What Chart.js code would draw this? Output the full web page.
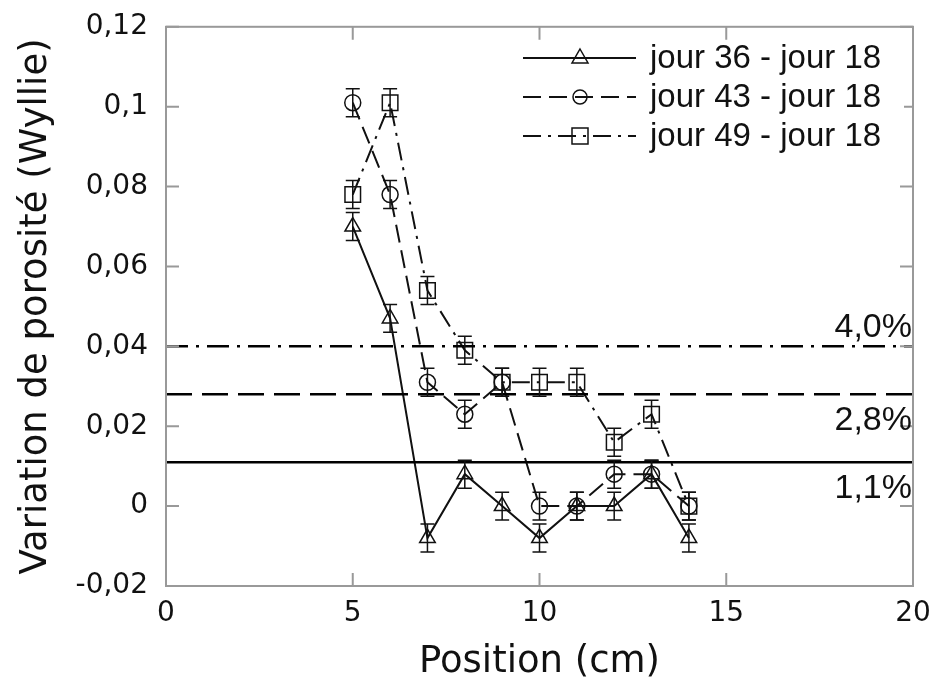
<!DOCTYPE html>
<html lang="fr">
<head>
<meta charset="UTF-8">
<title>Variation de porosité</title>
<style>
  body { margin: 0; padding: 0; background: #fff; }
  #wrap { width: 935px; height: 681px; position: relative; }
</style>
</head>
<body>
<div id="wrap"><canvas id="chart" width="935" height="681"></canvas></div>

<script src="https://cdn.jsdelivr.net/npm/chart.js"></script>
<script>
// positions (cm)
var positions = [5, 6, 7, 8, 9, 10, 11, 12, 13, 14];

// variation de porosité (Wyllie)
var jour36 = [0.070, 0.047, -0.008, 0.008, 0.000, -0.008, 0.000, 0.000, 0.008, -0.008];
var jour43 = [0.101, 0.078, 0.031, 0.023, 0.031, 0.000, 0.000, 0.008, 0.008, 0.000];
var jour49 = [0.078, 0.101, 0.054, 0.039, 0.031, 0.031, 0.031, 0.016, 0.023, 0.000];

// error bar half heights
var err36 = [0.0035, 0.0035, 0.0035, 0.0035, 0.0035, 0.0035, 0.0035, 0.0035, 0.0035, 0.0035];
var err43 = [0.0035, 0.0035, 0.0035, 0.0035, 0.0035, 0.0035, 0.0035, 0.0035, 0.0035, 0.0035];
var err49 = [0.0035, 0.0035, 0.0035, 0.0035, 0.0035, 0.0035, 0.0035, 0.0035, 0.0035, 0.0035];

var seriesNames = ['jour 36 - jour 18', 'jour 43 - jour 18', 'jour 49 - jour 18'];

// horizontal reference levels
var refLevels = [0.040, 0.028, 0.011];
var refLabels = ['4,0%', '2,8%', '1,1%'];
var refRange = [0, 20];

var xTicks = [0, 5, 10, 15, 20];
var xTickLabels = ['0', '5', '10', '15', '20'];
var yTicks = [-0.02, 0, 0.02, 0.04, 0.06, 0.08, 0.1, 0.12];
var yTickLabels = ['-0,02', '0', '0,02', '0,04', '0,06', '0,08', '0,1', '0,12'];

var dashes = [[], [18, 8], [18, 7, 3, 7]];
var refDashes = [[22, 8, 3, 8], [26, 10], []];
var shapes = ['triangle', 'circle', 'rect'];
var radii = [9, 8, 11];

function pts(vals) {
    return positions.map(function (p, i) { return { x: p, y: vals[i] }; });
}

var seriesVals = [jour36, jour43, jour49];
var seriesErr = [err36, err43, err49];

var datasets = [];
refLevels.forEach(function (lvl, i) {
    datasets.push({
        label: refLabels[i],
        data: [{ x: refRange[0], y: lvl }, { x: refRange[1], y: lvl }],
        showLine: true,
        borderColor: '#000',
        borderWidth: 2.5,
        borderDash: refDashes[i],
        pointRadius: 0
    });
});
seriesVals.forEach(function (vals, i) {
    datasets.push({
        label: seriesNames[i],
        data: pts(vals),
        showLine: true,
        borderColor: '#111',
        borderWidth: 2,
        borderDash: dashes[i],
        pointStyle: shapes[i],
        pointRadius: radii[i],
        pointBorderWidth: 1.5,
        pointBorderColor: '#111',
        pointBackgroundColor: 'rgba(0,0,0,0)'
    });
});

// frame with inward ticks, error bars, reference labels and legend
var extras = {
    id: 'extras',
    afterDatasetsDraw: function (chart) {
        var ctx = chart.ctx;
        var a = chart.chartArea;
        var xs = chart.scales.x, ys = chart.scales.y;

        // error bars
        ctx.save();
        ctx.strokeStyle = '#111';
        ctx.lineWidth = 1.5;
        ctx.setLineDash([]);
        seriesVals.forEach(function (vals, s) {
            vals.forEach(function (v, i) {
                var px = xs.getPixelForValue(positions[i]);
                var top = ys.getPixelForValue(v + seriesErr[s][i]);
                var bot = ys.getPixelForValue(v - seriesErr[s][i]);
                ctx.beginPath();
                ctx.moveTo(px, top); ctx.lineTo(px, bot);
                ctx.moveTo(px - 7, top); ctx.lineTo(px + 7, top);
                ctx.moveTo(px - 7, bot); ctx.lineTo(px + 7, bot);
                ctx.stroke();
            });
        });
        ctx.restore();

        // frame
        ctx.save();
        ctx.strokeStyle = '#999';
        ctx.lineWidth = 2;
        ctx.setLineDash([]);
        ctx.strokeRect(a.left, a.top, a.right - a.left, a.bottom - a.top);
        ctx.beginPath();
        xTicks.forEach(function (t) {
            var px = xs.getPixelForValue(t);
            ctx.moveTo(px, a.bottom); ctx.lineTo(px, a.bottom - 13);
            ctx.moveTo(px, a.top); ctx.lineTo(px, a.top + 13);
        });
        yTicks.forEach(function (t) {
            var py = ys.getPixelForValue(t);
            ctx.moveTo(a.left, py); ctx.lineTo(a.left + 13, py);
            ctx.moveTo(a.right, py); ctx.lineTo(a.right - 13, py);
        });
        ctx.stroke();
        ctx.restore();

        // reference labels
        ctx.save();
        ctx.fillStyle = '#111';
        ctx.font = '34px "Liberation Sans", Arial, sans-serif';
        ctx.textAlign = 'right';
        refLevels.forEach(function (lvl, i) {
            var py = ys.getPixelForValue(lvl);
            if (i === 0) {
                ctx.textBaseline = 'bottom';
                ctx.fillText(refLabels[i], a.right - 1, py - 2);
            } else {
                ctx.textBaseline = 'top';
                ctx.fillText(refLabels[i], a.right - 1, py + 9);
            }
        });
        ctx.restore();

        // legend
        ctx.save();
        var lx0 = 523, lx1 = 636, mx = 580, ty = 58, gap = 39;
        ctx.font = '33px "Liberation Sans", Arial, sans-serif';
        ctx.textBaseline = 'middle';
        ctx.textAlign = 'left';
        seriesNames.forEach(function (name, i) {
            var y = ty + i * gap;
            ctx.fillStyle = '#fff';
            ctx.fillRect(lx0 - 4, y - 18, 385, 36);
            ctx.strokeStyle = '#111';
            ctx.lineWidth = 2;
            ctx.setLineDash(dashes[i]);
            ctx.beginPath();
            ctx.moveTo(lx0, y); ctx.lineTo(lx1, y);
            ctx.stroke();
            ctx.setLineDash([]);
            ctx.lineWidth = 1.5;
            ctx.beginPath();
            if (shapes[i] === 'triangle') {
                ctx.moveTo(mx, y - 9); ctx.lineTo(mx + 8, y + 5); ctx.lineTo(mx - 8, y + 5); ctx.closePath();
            } else if (shapes[i] === 'circle') {
                ctx.arc(mx, y, 7, 0, Math.PI * 2);
            } else {
                ctx.rect(mx - 8, y - 8, 16, 16);
            }
            ctx.stroke();
            ctx.fillStyle = '#111';
            ctx.fillText(name, 650, y + 1);
        });
        ctx.restore();
    }
};

var ctx = document.getElementById('chart').getContext('2d');
var chart = new Chart(ctx, {
    type: 'scatter',
    data: { datasets: datasets },
    options: {
        responsive: false,
        animation: false,
        events: [],
        layout: { padding: { left: 0, top: 22, right: 22, bottom: 0 } },
        plugins: {
            legend: { display: false },
            tooltip: { enabled: false }
        },
        scales: {
            x: {
                type: 'linear',
                min: 0,
                max: 20,
                afterBuildTicks: function (scale) {
                    scale.ticks = xTicks.map(function (v) { return { value: v }; });
                },
                afterFit: function (scale) { scale.height = 95; },
                grid: { display: false },
                border: { display: false },
                ticks: {
                    color: '#111',
                    padding: 3,
                    maxRotation: 0,
                    font: { family: '"DejaVu Sans", sans-serif', size: 28 },
                    callback: function (v, i) { return xTickLabels[i]; }
                },
                title: {
                    display: true,
                    text: 'Position (cm)',
                    color: '#111',
                    padding: { top: 0, bottom: 0 },
                    font: { family: '"DejaVu Sans", sans-serif', size: 37, lineHeight: 1 }
                }
            },
            y: {
                type: 'linear',
                min: -0.02,
                max: 0.12,
                afterBuildTicks: function (scale) {
                    scale.ticks = yTicks.map(function (v) { return { value: v }; });
                },
                afterFit: function (scale) { scale.width = 166; },
                grid: { display: false },
                border: { display: false },
                ticks: {
                    color: '#111',
                    padding: 10,
                    font: { family: '"DejaVu Sans", sans-serif', size: 28 },
                    callback: function (v, i) { return yTickLabels[i]; }
                },
                title: {
                    display: true,
                    text: 'Variation de porosité (Wyllie)',
                    color: '#111',
                    padding: { top: 18, bottom: 0 },
                    font: { family: '"DejaVu Sans", sans-serif', size: 37, lineHeight: 1 }
                }
            }
        }
    },
    plugins: [extras]
});
</script>
</body>
</html>
